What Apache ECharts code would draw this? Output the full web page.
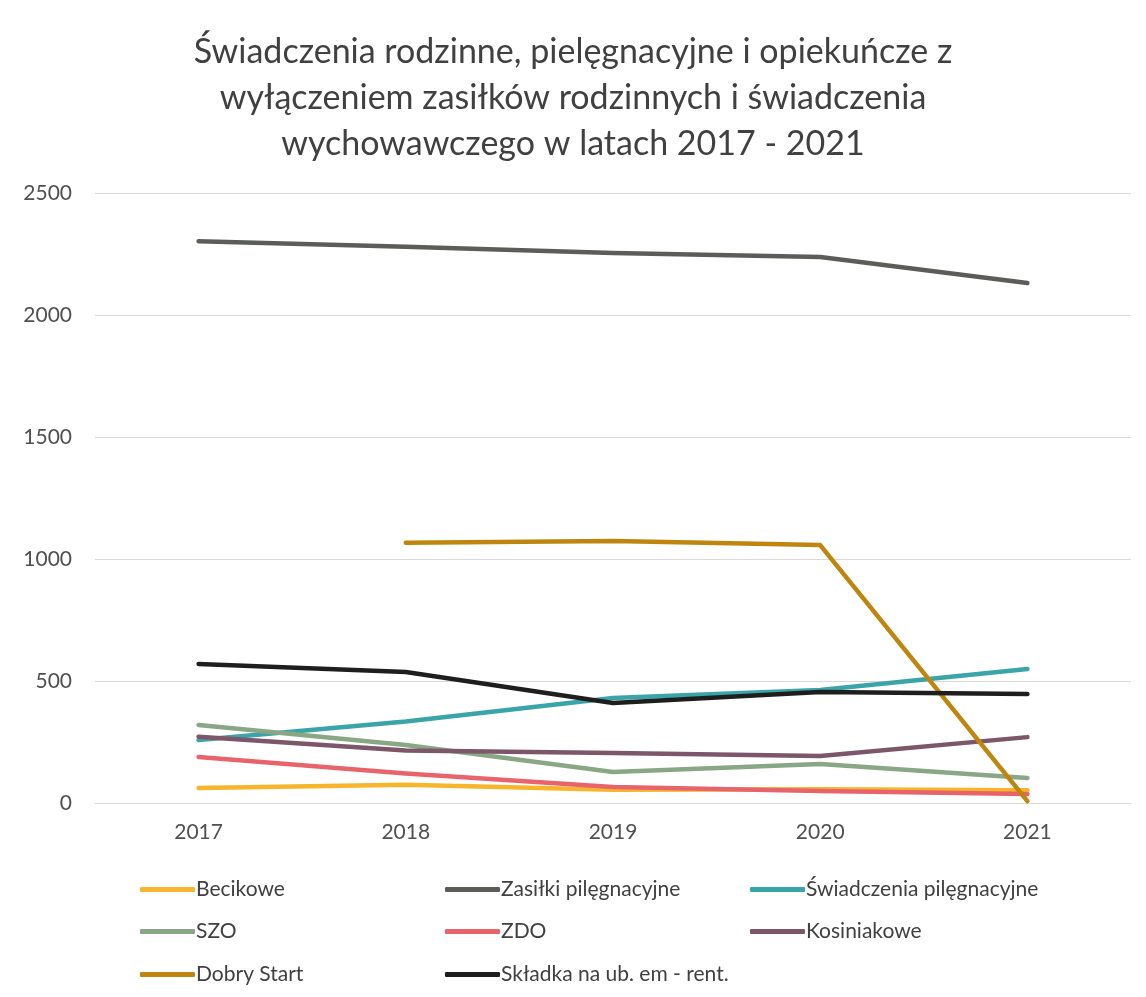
<!DOCTYPE html>
<html>
<head>
<meta charset="utf-8">
<script src="https://cdn.jsdelivr.net/npm/echarts@6/dist/echarts.min.js"></script>
<style>
html,body{margin:0;padding:0;background:#fff;}
#chart{width:1146px;height:997px;}
</style>
</head>
<body>
<div id="chart"></div>
<script>
const titleText = "Świadczenia rodzinne, pielęgnacyjne i opiekuńcze z\nwyłączeniem zasiłków rodzinnych i świadczenia\nwychowawczego w latach 2017 - 2021";
const years = ["2017", "2018", "2019", "2020", "2021"];
const becikowe = [61, 75, 54, 56, 52];
const zasilkiPiel = [2302, 2280, 2254, 2238, 2131];
const swiadczeniaPiel = [258, 334, 430, 463, 549];
const szo = [320, 238, 127, 160, 102];
const zdo = [189, 121, 66, 49, 37];
const kosiniakowe = [272, 215, 205, 193, 270];
const dobryStart = [null, 1067, 1074, 1057, 8];
const skladka = [570, 537, 410, 455, 447];

const seriesNames = ["Becikowe", "Zasiłki pilęgnacyjne", "Świadczenia pilęgnacyjne", "SZO", "ZDO", "Kosiniakowe", "Dobry Start", "Składka na ub. em - rent."];
const seriesData = [becikowe, zasilkiPiel, swiadczeniaPiel, szo, zdo, kosiniakowe, dobryStart, skladka];
const colors = ["#F7B52C", "#5B5E58", "#3AA5A8", "#89A784", "#E8646C", "#7D5669", "#BF860F", "#1E1E1E"];

const FONT = "Lato";
const chart = echarts.init(document.getElementById('chart'));

const colLeft = [135, 440, 745];
const rowTop = [874, 916, 959];
const legends = seriesNames.map((n, i) => ({
  left: colLeft[i % 3], top: rowTop[Math.floor(i / 3)],
  data: [n],
  icon: 'roundRect', itemWidth: 55, itemHeight: 5, itemGap: 0,
  textStyle: { fontFamily: FONT, fontSize: 21, color: '#404040', padding: [0, 0, 0, -4] },
  selectedMode: false
}));

chart.setOption({
  backgroundColor: '#fff',
  color: colors,
  title: {
    text: titleText, left: 'center', top: 24,
    textStyle: { fontFamily: FONT, fontSize: 34, fontWeight: 'normal', color: '#404040', lineHeight: 46 }
  },
  grid: { left: 95, right: 15, top: 193, bottom: 194, containLabel: false },
  legend: legends,
  xAxis: {
    type: 'category', data: years, boundaryGap: true,
    axisLine: { show: true, lineStyle: { color: '#d9d9d9' } },
    axisTick: { show: false },
    axisLabel: { fontFamily: FONT, fontSize: 21, color: '#505050', margin: 19 }
  },
  yAxis: {
    type: 'value', min: 0, max: 2500, interval: 500,
    axisLine: { show: false }, axisTick: { show: false },
    splitLine: { lineStyle: { color: '#d9d9d9', width: 1 } },
    axisLabel: { fontFamily: FONT, fontSize: 21, color: '#505050', margin: 23, formatter: v => String(v) }
  },
  series: seriesNames.map((n, i) => ({
    name: n, type: 'line', data: seriesData[i],
    symbol: 'none', showSymbol: false,
    lineStyle: { width: 4.5, color: colors[i], cap: 'round', join: 'round' },
    itemStyle: { color: colors[i] },
    connectNulls: false, animation: false
  }))
});
</script>
</body>
</html>
